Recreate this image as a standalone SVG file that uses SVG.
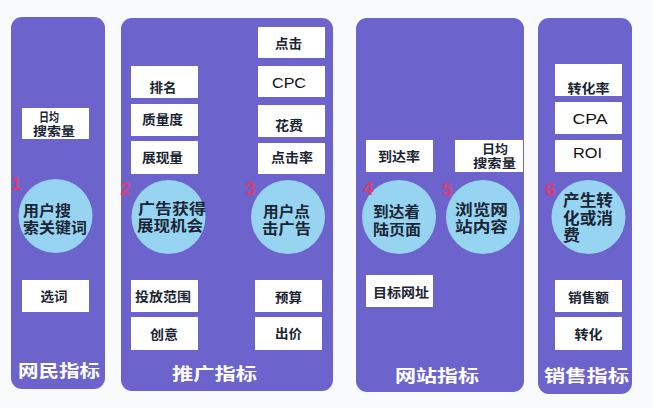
<svg xmlns="http://www.w3.org/2000/svg" width="653" height="408" viewBox="0 0 653 408">
<style>
.bg{fill:#f9fafc}
.panel{fill:#6c63cc}
.box{fill:#ffffff}
.circ{fill:#96d4f1}
text{font-family:"Liberation Sans","Noto Sans CJK SC",sans-serif;font-weight:bold;fill:#1b2433}
.bt{font-size:13px;text-anchor:middle}
.sm{font-size:12.5px}
.lat{font-size:15px;font-weight:normal;text-anchor:middle;fill:#111}
.ct{font-size:14.5px}
.num{font-size:19px;fill:#e23a6c;fill-opacity:0.9}
.lab{font-size:17px;fill:#ffffff;text-anchor:middle}
</style>
<rect class="bg" x="0" y="0" width="653" height="408"/>
<g id="panels">
<rect id="panel-netizen" class="panel" x="11" y="17" width="94" height="372" rx="11"/>
<rect id="panel-promo" class="panel" x="121" y="18" width="212" height="373" rx="11"/>
<rect id="panel-site" class="panel" x="356" y="18" width="168" height="374" rx="11"/>
<rect id="panel-sales" class="panel" x="538" y="18" width="94" height="376" rx="11"/>
</g>
<g id="connectors"></g>
<g id="n-daily1"><rect class="box" x="22" y="108" width="67" height="31"/><text class="bt sm" x="49" y="122" textLength="20" lengthAdjust="spacingAndGlyphs">日均</text><text class="bt sm" x="54" y="136" textLength="42" lengthAdjust="spacingAndGlyphs">搜索量</text></g>
<g id="n-xuanci"><rect class="box" x="22" y="280" width="67" height="32"/><text class="bt" x="54" y="301" textLength="27" lengthAdjust="spacingAndGlyphs">选词</text></g>
<g id="n-paiming"><rect class="box" x="131" y="66" width="67" height="32"/><text class="bt" x="163" y="92" textLength="27" lengthAdjust="spacingAndGlyphs">排名</text></g>
<g id="n-zhiliang"><rect class="box" x="131" y="104" width="67" height="32"/><text class="bt" x="162.5" y="124" textLength="41" lengthAdjust="spacingAndGlyphs">质量度</text></g>
<g id="n-zhanxian"><rect class="box" x="131" y="141" width="67" height="33"/><text class="bt" x="162.5" y="162" textLength="41" lengthAdjust="spacingAndGlyphs">展现量</text></g>
<g id="n-toufang"><rect class="box" x="131" y="280" width="67" height="32"/><text class="bt" x="163" y="301" textLength="56" lengthAdjust="spacingAndGlyphs">投放范围</text></g>
<g id="n-chuangyi"><rect class="box" x="131" y="317" width="67" height="33"/><text class="bt" x="164" y="339" textLength="28" lengthAdjust="spacingAndGlyphs">创意</text></g>
<g id="n-dianji"><rect class="box" x="258" y="27" width="67" height="31"/><text class="bt" x="288.5" y="48" textLength="27" lengthAdjust="spacingAndGlyphs">点击</text></g>
<g id="n-cpc"><rect class="box" x="258" y="66" width="67" height="31"/><text class="lat" x="289" y="88" textLength="34" lengthAdjust="spacingAndGlyphs">CPC</text></g>
<g id="n-huafei"><rect class="box" x="258" y="105" width="67" height="32"/><text class="bt" x="289" y="130" textLength="28" lengthAdjust="spacingAndGlyphs">花费</text></g>
<g id="n-djl"><rect class="box" x="258" y="143" width="67" height="31"/><text class="bt" x="292" y="162" textLength="42" lengthAdjust="spacingAndGlyphs">点击率</text></g>
<g id="n-yusuan"><rect class="box" x="255" y="280" width="67" height="32"/><text class="bt" x="288.5" y="302" textLength="27" lengthAdjust="spacingAndGlyphs">预算</text></g>
<g id="n-chujia"><rect class="box" x="255" y="317" width="67" height="33"/><text class="bt" x="288.5" y="338" textLength="27" lengthAdjust="spacingAndGlyphs">出价</text></g>
<g id="n-daoda"><rect class="box" x="366" y="140" width="67" height="32"/><text class="bt" x="399" y="161" textLength="42" lengthAdjust="spacingAndGlyphs">到达率</text></g>
<g id="n-daily2"><rect class="box" x="455" y="140" width="68" height="32"/><text class="bt sm" x="495" y="154" textLength="26" lengthAdjust="spacingAndGlyphs">日均</text><text class="bt sm" x="494.5" y="168" textLength="43" lengthAdjust="spacingAndGlyphs">搜索量</text></g>
<g id="n-mubiao"><rect class="box" x="366" y="275" width="67" height="32"/><text class="bt" x="401" y="297" textLength="56" lengthAdjust="spacingAndGlyphs">目标网址</text></g>
<g id="n-zhlv"><rect class="box" x="555" y="64" width="67" height="32"/><text class="bt" x="588.5" y="93" textLength="42" lengthAdjust="spacingAndGlyphs">转化率</text></g>
<g id="n-cpa"><rect class="box" x="555" y="102" width="67" height="32"/><text class="lat" x="590" y="124" textLength="35" lengthAdjust="spacingAndGlyphs">CPA</text></g>
<g id="n-roi"><rect class="box" x="555" y="140" width="67" height="32"/><text class="lat" x="587.5" y="158" textLength="29" lengthAdjust="spacingAndGlyphs">ROI</text></g>
<g id="n-xse"><rect class="box" x="555" y="280" width="67" height="32"/><text class="bt" x="588.5" y="302" textLength="41" lengthAdjust="spacingAndGlyphs">销售额</text></g>
<g id="n-zhuanhua"><rect class="box" x="555" y="317" width="67" height="33"/><text class="bt" x="588.5" y="339" textLength="28" lengthAdjust="spacingAndGlyphs">转化</text></g>
<g id="step1"><circle class="circ" cx="55.5" cy="216" r="37"/><text class="ct" x="23" y="216" textLength="48" lengthAdjust="spacingAndGlyphs">用户搜</text><text class="ct" x="23" y="233" textLength="64" lengthAdjust="spacingAndGlyphs">索关键词</text><text class="num" x="11" y="190">1</text></g>
<g id="step2"><circle class="circ" cx="168.5" cy="217" r="37"/><text class="ct" x="138" y="214" textLength="68" lengthAdjust="spacingAndGlyphs">广告获得</text><text class="ct" x="137" y="231" textLength="66" lengthAdjust="spacingAndGlyphs">展现机会</text><text class="num" x="120" y="195">2</text></g>
<g id="step3"><circle class="circ" cx="288" cy="217" r="37"/><text class="ct" x="263" y="217" textLength="47" lengthAdjust="spacingAndGlyphs">用户点</text><text class="ct" x="262" y="234" textLength="49" lengthAdjust="spacingAndGlyphs">击广告</text><text class="num" x="245" y="195">3</text></g>
<g id="step4"><circle class="circ" cx="399" cy="217" r="37"/><text class="ct" x="373" y="217" textLength="47" lengthAdjust="spacingAndGlyphs">到达着</text><text class="ct" x="373" y="235" textLength="48" lengthAdjust="spacingAndGlyphs">陆页面</text><text class="num" x="363" y="195">4</text></g>
<g id="step5"><circle class="circ" cx="483" cy="217" r="37"/><text class="ct" x="455" y="215" textLength="53" lengthAdjust="spacingAndGlyphs">浏览网</text><text class="ct" x="455" y="232" textLength="53" lengthAdjust="spacingAndGlyphs">站内容</text><text class="num" x="442" y="196">5</text></g>
<g id="step6"><text class="num" x="545" y="196">6</text><circle class="circ" cx="588.5" cy="217" r="37"/><text class="ct" style="font-size:15.5px" x="563" y="206" textLength="50" lengthAdjust="spacingAndGlyphs">产生转</text><text class="ct" style="font-size:15.5px" x="563" y="224" textLength="50" lengthAdjust="spacingAndGlyphs">化或消</text><text class="ct" style="font-size:15.5px" x="563" y="241" textLength="17" lengthAdjust="spacingAndGlyphs">费</text></g>
<g id="labels">
<text class="lab" x="59" y="377" textLength="82" lengthAdjust="spacingAndGlyphs">网民指标</text>
<text class="lab" x="214.5" y="380" textLength="85" lengthAdjust="spacingAndGlyphs">推广指标</text>
<text class="lab" x="437" y="382" textLength="84" lengthAdjust="spacingAndGlyphs">网站指标</text>
<text class="lab" x="586.5" y="382" textLength="85" lengthAdjust="spacingAndGlyphs">销售指标</text>
</g>
</svg>
